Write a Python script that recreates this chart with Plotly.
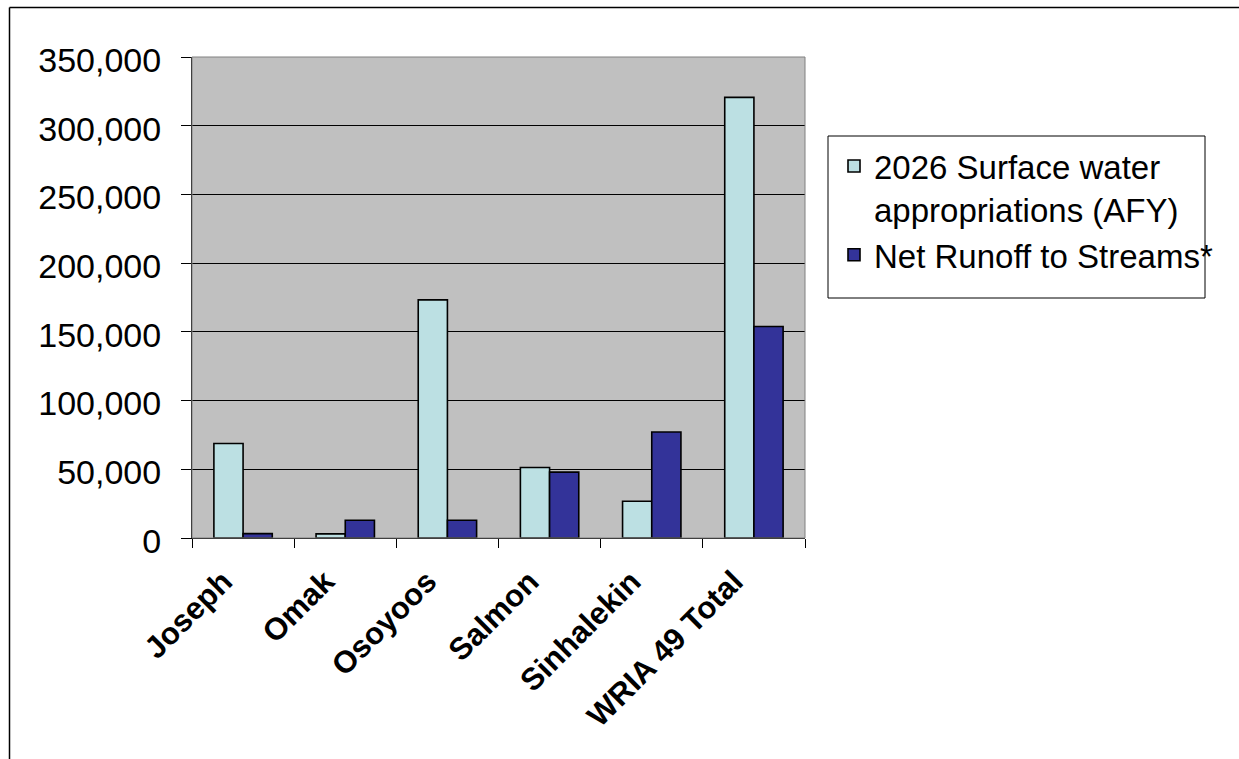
import plotly.graph_objects as go

# Watershed sub-basins and the WRIA 49 total
basins = ["Joseph", "Omak", "Osoyoos", "Salmon", "Sinhalekin", "WRIA 49 Total"]
surface_appropriations = [68800, 3000, 173300, 51300, 26700, 320600]
net_runoff = [3200, 12900, 12900, 47900, 77100, 153900]

y_ticks = [0, 50000, 100000, 150000, 200000, 250000, 300000, 350000]

W, H = 1239, 759
L, R, T, B = 192, 805, 57, 538   # plot area in pixels


def px(xp):
    return (xp - L) / (R - L)


def py(yp):
    return (B - yp) / (B - T)


fig = go.Figure()
fig.add_trace(go.Bar(
    x=basins, y=surface_appropriations,
    name="2026 Surface water<br>appropriations (AFY)",
    marker=dict(color="#BCE0E3", line=dict(color="black", width=1.6)),
))
fig.add_trace(go.Bar(
    x=basins, y=net_runoff,
    name="Net Runoff to Streams*",
    marker=dict(color="#333399", line=dict(color="black", width=1.6)),
))

shapes = [
    # plot area frame
    dict(type="rect", xref="paper", yref="paper", x0=0, x1=1, y0=0, y1=1,
         line=dict(color="#808080", width=1), layer="above"),
    # legend box
    dict(type="rect", xref="paper", yref="paper",
         x0=px(828), x1=px(1205), y0=py(298), y1=py(136),
         line=dict(color="black", width=1), fillcolor="white", layer="below"),
    # outer chart border (top and left edges)
    dict(type="line", xref="paper", yref="paper",
         x0=px(9.5), x1=px(1239), y0=py(7.5), y1=py(7.5),
         line=dict(color="black", width=1.5)),
    dict(type="line", xref="paper", yref="paper",
         x0=px(9.5), x1=px(9.5), y0=py(7.5), y1=py(759),
         line=dict(color="black", width=1.5)),
]

fig.update_layout(
    width=W, height=H,
    margin=dict(l=L, r=W - R, t=T, b=H - B),
    paper_bgcolor="white",
    plot_bgcolor="#C0C0C0",
    barmode="group",
    bargap=1.5 / 3.5,
    bargroupgap=0,
    font=dict(family="Liberation Sans, Arial, sans-serif", color="black"),
    shapes=shapes,
    legend=dict(
        x=px(834), y=py(138), xanchor="left", yanchor="top",
        bgcolor="rgba(0,0,0,0)", borderwidth=0,
        font=dict(size=33, color="black"),
        valign="top", tracegroupgap=0,
    ),
    showlegend=True,
)

fig.update_xaxes(
    type="category",
    tickson="boundaries",
    ticks="outside", ticklen=9, tickcolor="black", tickwidth=1,
    tickangle=-45,
    tickfont=dict(size=31, family="Liberation Sans, Arial, sans-serif", color="black", weight="bold"),
    ticklabelshift=-20,
    ticklabelstandoff=12,
    showline=True, linecolor="black", linewidth=1,
    showgrid=False,
    range=[-0.5, len(basins) - 0.5],
)
fig.update_yaxes(
    range=[0, 350000],
    tickvals=y_ticks,
    tickformat=",",
    ticks="outside", ticklen=10, tickcolor="black", tickwidth=1,
    tickfont=dict(size=34, color="black"),
    ticklabelstandoff=13,
    ticklabelshift=3,
    showline=True, linecolor="black", linewidth=1,
    showgrid=True, gridcolor="black", gridwidth=1,
    zeroline=False,
)

fig.write_html("out.html")
